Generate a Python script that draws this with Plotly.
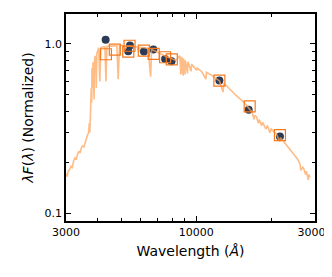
import numpy as np
import plotly.graph_objects as go

# Photometry (dark circles)
phot_wave = [4328, 5420, 5336, 6166, 6730, 7500, 7960, 12390, 16250, 21690]
phot_flux = [1.056, 0.977, 0.905, 0.901, 0.926, 0.816, 0.790, 0.608, 0.409, 0.285]

# Synthetic photometry (open squares)
synth_wave = [4340, 4710, 5336, 5400, 6160, 6750, 7500, 7980, 12390, 16400, 21690]
synth_flux = [0.869, 0.926, 0.900, 0.975, 0.913, 0.873, 0.834, 0.810, 0.608, 0.428, 0.290]

# Model spectrum
spec_wave = [3000, 3030, 3060, 3100, 3140, 3180, 3220, 3260, 3300, 3340, 3380, 3420,
             3460, 3500, 3540, 3580, 3620, 3660, 3700, 3720, 3740, 3760, 3775, 3790,
             3805, 3815, 3835, 3850, 3870, 3889, 3905, 3930, 3950, 3970, 3990, 4030,
             4060, 4101, 4140, 4200, 4300, 4340, 4380, 4500, 4600, 4700, 4800, 4861,
             4920, 5000, 5100, 5180, 5250, 5400, 5600, 5800, 5890, 5950, 6200, 6400,
             6563, 6620, 6800, 7000, 7200, 7400, 7600, 7800, 8000, 8200, 8400, 8500,
             8600, 8665, 8700, 8750, 8800, 8863, 8900, 9015, 9050, 9229, 9260, 9546,
             9580, 10049, 10100, 10500, 10938, 11000, 11500, 12000, 12400, 12818, 12900,
             13500, 14000, 14500, 15000, 15500, 16000, 16500, 16800, 17060, 17200,
             17500, 17760, 17900, 18320, 18500, 19050, 19300, 19780, 20000, 21000,
             21660, 21800, 22500, 23500, 24500, 25500, 26100, 26300, 26800, 27000,
             27500, 27700, 28200, 28400, 28600]
spec_flux = [0.172, 0.165, 0.178, 0.182, 0.190, 0.187, 0.205, 0.213, 0.208, 0.225, 0.232, 0.228,
             0.245, 0.250, 0.247, 0.262, 0.268, 0.290, 0.300, 0.340, 0.300, 0.420, 0.360, 0.550,
             0.450, 0.720, 0.550, 0.780, 0.620, 0.470, 0.800, 0.850, 0.800, 0.550, 0.880, 0.940,
             0.950, 0.600, 0.950, 0.960, 0.965, 0.600, 0.965, 0.970, 0.975, 0.980, 0.975, 0.620,
             0.975, 0.980, 0.975, 0.920, 0.970, 0.970, 0.965, 0.960, 0.900, 0.955, 0.950, 0.940,
             0.640, 0.930, 0.910, 0.890, 0.870, 0.855, 0.840, 0.830, 0.815, 0.805, 0.810, 0.840,
             0.850, 0.660, 0.840, 0.670, 0.830, 0.650, 0.820, 0.660, 0.800, 0.670, 0.785, 0.690,
             0.760, 0.700, 0.720, 0.690, 0.620, 0.680, 0.655, 0.630, 0.605, 0.520, 0.585,
             0.550, 0.520, 0.495, 0.475, 0.455, 0.430, 0.405, 0.395, 0.360, 0.380,
             0.370, 0.340, 0.358, 0.330, 0.345, 0.315, 0.330, 0.300, 0.315, 0.295,
             0.265, 0.280, 0.265, 0.245, 0.228, 0.210, 0.197, 0.180, 0.188, 0.185,
             0.170, 0.178, 0.158, 0.170, 0.164]

x_major = [3000, 10000, 30000]
x_major_text = ["3000", "10000", "30000"]
x_minor = [4000, 5000, 6000, 7000, 8000, 9000, 20000]
y_major = [0.1, 1.0]
y_major_text = ["0.1", "1.0"]
y_minor = [0.2, 0.3, 0.4, 0.5, 0.6, 0.7, 0.8, 0.9]

fig = go.Figure()
fig.add_trace(go.Scatter(x=phot_wave, y=phot_flux, mode="markers",
                         marker=dict(color="#2b3b55", size=8, line=dict(width=0)),
                         showlegend=False))
fig.add_trace(go.Scatter(x=spec_wave, y=spec_flux, mode="lines",
                         line=dict(color="rgba(253,165,95,0.75)", width=1.6),
                         showlegend=False))
fig.add_trace(go.Scatter(x=synth_wave, y=synth_flux, mode="markers",
                         marker=dict(symbol="square-open", color="#f57a1c", size=11,
                                     line=dict(width=1.2, color="#f57a1c")),
                         showlegend=False))

axis_common = dict(type="log", showline=True, linecolor="black", linewidth=1.6,
                   mirror="ticks", ticks="inside", ticklen=5, tickwidth=1,
                   tickcolor="black", showgrid=False, zeroline=False,
                   tickfont=dict(family="DejaVu Sans", size=11, color="black"))

fig.update_layout(
    width=332, height=277,
    margin=dict(l=58, r=25, t=6, b=64, autoexpand=False),
    paper_bgcolor="white", plot_bgcolor="white",
    font=dict(family="DejaVu Sans", color="black"),
    xaxis=dict(**axis_common, range=[np.log10(3000), np.log10(30000)],
               tickmode="array", tickvals=x_major, ticktext=x_major_text,
               minor=dict(tickmode="array", tickvals=x_minor, ticks="inside",
                          ticklen=3, tickcolor="black", showgrid=False),
               title=dict(text="Wavelength (<i>Å</i>)", font=dict(size=14), standoff=8)),
    yaxis=dict(**axis_common, range=[np.log10(0.0905), np.log10(1.5)],
               tickmode="array", tickvals=y_major, ticktext=y_major_text,
               minor=dict(tickmode="array", tickvals=y_minor, ticks="inside",
                          ticklen=3, tickcolor="black", showgrid=False),
               title=dict(text="<i>λF</i>(<i>λ</i>) (Normalized)", font=dict(size=14), standoff=8)),
)

fig.write_html("out.html")
